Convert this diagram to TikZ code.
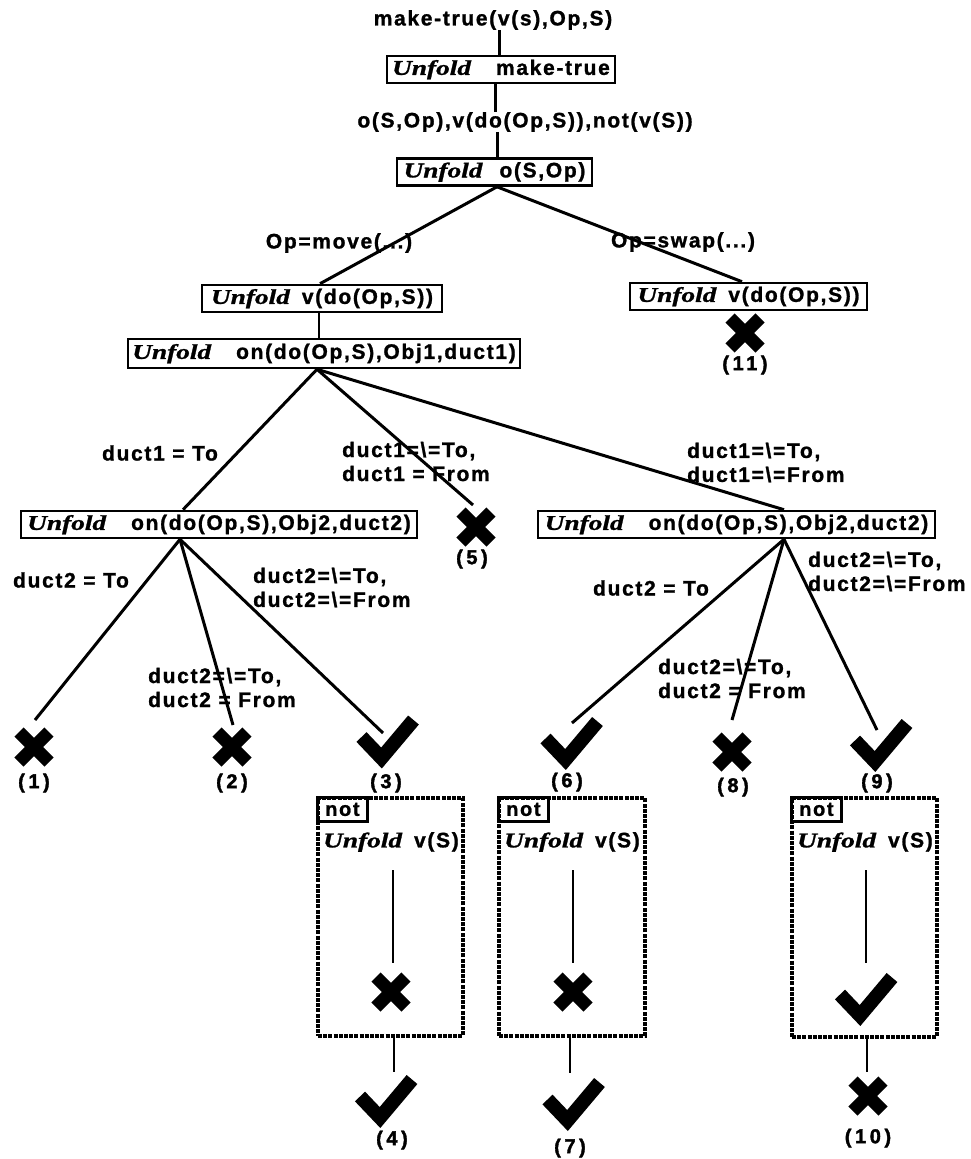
\documentclass[tikz,border=0pt]{standalone}
\usepackage{fontspec}
\setmainfont{Liberation Sans}
\newfontfamily\labf{Liberation Sans}[LetterSpace=8,FakeBold=1.2]
\newfontfamily\numf{Liberation Sans}[LetterSpace=18,FakeBold=1.8]
\newfontfamily\unff{Liberation Serif}[FakeStretch=1.3,FakeBold=1.2]
\newcommand\Unf[1]{{\unff\bfseries\itshape Unfold}\hspace{#1pt}}
\newcommand\bs{\textbackslash}
\begin{document}
\begin{tikzpicture}[x=1pt,y=-1pt,
 lab/.style={font=\labf\bfseries\fontsize{21}{24}\selectfont, inner sep=0pt, align=left},
 num/.style={font=\numf\bfseries\fontsize{20}{22}\selectfont, inner sep=0pt},
 ubox/.style={draw, line width=2.6pt, font=\labf\bfseries\fontsize{21}{24}\selectfont, inner sep=1pt, minimum height=27pt},
 edge/.style={line width=3pt},
 thinedge/.style={line width=2pt},
 dbox/.style={draw, line width=3.4pt, dash pattern=on 4pt off 1.2pt, inner sep=0pt},
 notbox/.style={draw, line width=2.2pt, inner sep=1pt, minimum width=50pt, minimum height=24pt, font=\labf\bfseries\fontsize{20}{22}\selectfont},
 xm/.pic={\draw[line width=13pt] (-15,-15)--(15,15) (-15,15)--(15,-15);},
 ckm/.pic={\draw[line width=14pt, line join=miter] (-25,-3)--(-5,18)--(27,-20);},
]
\useasboundingbox (0,0) rectangle (971,1159);

% top chain
\node[lab] (t0) at (493,20) {make-true(v(s),Op,S)};
\node[ubox, minimum width=228pt] (b1) at (501,69.5) {\Unf{25}make-true};
\node[lab] (t1) at (525,122) {o(S,Op),v(do(Op,S)),not(v(S))};
\node[ubox, minimum width=195pt] (b2) at (494.5,172) {\Unf{17}o(S,Op)};
\node[lab] (lm) at (339,243) {Op=move(...)};
\node[lab] (ls) at (683,242) {Op=swap(...)};
\node[ubox, minimum width=240pt] (b3) at (322,298.5) {\Unf{12}v(do(Op,S))};
\node[ubox, minimum width=237pt] (bR) at (748.5,296.5) {\Unf{12}v(do(Op,S))};
\pic at (745,333) {xm};
\node[num] (n11) at (745,365) {(11)};
\node[ubox, minimum width=392pt, minimum height=29pt] (b4) at (324,353.5) {\Unf{25}on(do(Op,S),Obj1,duct1)};

\draw[edge] ([xshift=6]t0.south) -- ([xshift=-2]b1.north);
\draw[edge] ([xshift=-6]b1.south) -- ([xshift=-30]t1.north);
\draw[edge] ([xshift=-28]t1.south) -- ([xshift=2.5]b2.north);
\draw[edge] ([xshift=2.5]b2.south) -- ([xshift=-2]b3.north);
\draw[edge] ([xshift=2.5]b2.south) -- ([xshift=-6.5]bR.north);
\draw[thinedge] ([xshift=-3]b3.south) -- ([xshift=-5]b4.north);

% second level
\node[ubox, minimum width=396pt] (b5) at (219,524.5) {\Unf{25}on(do(Op,S),Obj2,duct2)};
\node[ubox, minimum width=397pt] (b6) at (736.5,524.5) {\Unf{25}on(do(Op,S),Obj2,duct2)};
\node[lab] (l1) at (160,453) {duct1 = To};
\node[lab, anchor=west] (l2) at (342,461.5) {duct1=\bs=To,\\duct1 = From};
\node[lab, anchor=west] (l3) at (687,462.5) {duct1=\bs=To,\\duct1=\bs=From};
\coordinate (e5) at (473,505);
\pic at (476,527) {xm};
\node[num] (n5) at (472,559) {(5)};

\draw[edge] ([xshift=-7]b4.south) -- ([xshift=-36]b5.north);
\draw[edge] ([xshift=-7]b4.south) -- (e5);
\draw[edge] ([xshift=-7]b4.south) -- ([xshift=47.5]b6.north);

% left subtree
\node[lab] (l4) at (71,580) {duct2 = To};
\node[lab, anchor=west] (l5) at (253,587.5) {duct2=\bs=To,\\duct2=\bs=From};
\node[lab, anchor=west] (l6) at (148,687.5) {duct2=\bs=To,\\duct2 = From};
\coordinate (e1) at (35,720);
\coordinate (e2) at (233,725);
\coordinate (e3) at (383,733);
\draw[edge] ([xshift=-39]b5.south) -- (e1);
\draw[edge] ([xshift=-39]b5.south) -- (e2);
\draw[edge] ([xshift=-39]b5.south) -- (e3);
\pic at (34,747) {xm};
\pic at (232,747) {xm};
\pic at (386.5,740) {ckm};
\node[num] (n1) at (34,783) {(1)};
\node[num] (n2) at (232,783) {(2)};
\node[num] (n3) at (386,783) {(3)};

% right subtree
\node[lab] (l7) at (651,588) {duct2 = To};
\node[lab, anchor=west] (l8) at (658,678.5) {duct2=\bs=To,\\duct2 = From};
\node[lab, anchor=west] (l9) at (808,571.5) {duct2=\bs=To,\\duct2=\bs=From};
\coordinate (e6) at (572,723);
\coordinate (e8) at (732,720);
\coordinate (e9) at (877,730);
\draw[edge] ([xshift=47.5]b6.south) -- (e6);
\draw[edge] ([xshift=47.5]b6.south) -- (e8);
\draw[edge] ([xshift=47.5]b6.south) -- (e9);
\pic at (570.5,741.5) {ckm};
\pic at (732,752) {xm};
\pic at (880,743.5) {ckm};
\node[num] (n6) at (567,782) {(6)};
\node[num] (n8) at (733,787) {(8)};
\node[num] (n9) at (877,783) {(9)};

% not boxes
\node[dbox, minimum width=145pt, minimum height=238pt] (dA) at (390.5,917) {};
\node[notbox, anchor=north west] (nA) at (dA.north west) {not};
\node[lab, anchor=west] (uA) at (323,842) {\Unf{12}v(S)};
\coordinate (iA1) at (393,870); \coordinate (iA2) at (393,963);
\draw[thinedge] (iA1) -- (iA2);
\pic at (391,992) {xm};
\coordinate (oA) at (394,1072);
\draw[thinedge] ([xshift=3.5]dA.south) -- (oA);
\pic at (385,1099.5) {ckm};
\node[num] (n4) at (392,1140) {(4)};

\node[dbox, minimum width=146pt, minimum height=238pt] (dB) at (572,917) {};
\node[notbox, anchor=north west] (nB) at (dB.north west) {not};
\node[lab, anchor=west] (uB) at (504,842) {\Unf{12}v(S)};
\coordinate (iB1) at (573,870); \coordinate (iB2) at (573,963);
\draw[thinedge] (iB1) -- (iB2);
\pic at (573,992) {xm};
\coordinate (oB) at (570,1073);
\draw[thinedge] ([xshift=-2]dB.south) -- (oB);
\pic at (572.5,1102.5) {ckm};
\node[num] (n7) at (570,1148) {(7)};

\node[dbox, minimum width=145pt, minimum height=239pt] (dC) at (864.5,917.5) {};
\node[notbox, anchor=north west] (nC) at (dC.north west) {not};
\node[lab, anchor=west] (uC) at (797,842) {\Unf{12}v(S)};
\coordinate (iC1) at (866,870); \coordinate (iC2) at (866,963);
\draw[thinedge] (iC1) -- (iC2);
\pic at (865,997.5) {ckm};
\coordinate (oC) at (867,1072);
\draw[thinedge] ([xshift=2.5]dC.south) -- (oC);
\pic at (868,1096) {xm};
\node[num] (n10) at (868,1138) {(10)};
\end{tikzpicture}
\end{document}
